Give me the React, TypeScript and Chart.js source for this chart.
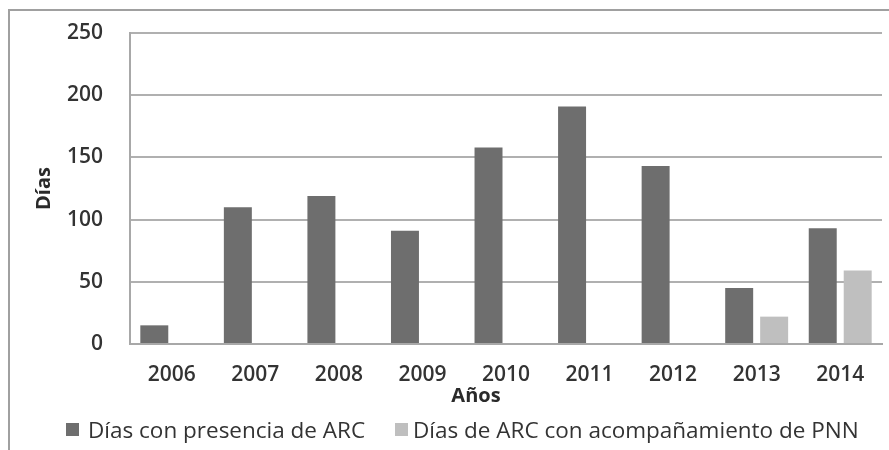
import React, { useEffect, useRef } from "react";
import { Chart, registerables } from "chart.js";

Chart.register(...registerables);

const years = ["2006", "2007", "2008", "2009", "2010", "2011", "2012", "2013", "2014"];
const diasPresenciaArc = [15, 110, 119, 91, 158, 191, 143, 45, 93];
const diasAcompanamientoPnn = [null, null, null, null, null, null, null, 22, 59];
const seriesNames = ["Días con presencia de ARC", "Días de ARC con acompañamiento de PNN"];
const seriesColors = ["#6e6e6e", "#bfbfbf"];
const yMin = 0;
const yMax = 250;
const yStep = 50;
const xAxisTitle = "Años";
const yAxisTitle = "Días";

const FONT = "'Open Sans', 'DejaVu Sans', sans-serif";

export default function App() {
  const canvasRef = useRef<HTMLCanvasElement | null>(null);

  useEffect(() => {
    const canvas = canvasRef.current;
    if (!canvas) return;
    const chart = new Chart(canvas, {
      type: "bar",
      data: {
        labels: years,
        datasets: [
          {
            label: seriesNames[0],
            data: diasPresenciaArc,
            backgroundColor: seriesColors[0],
            borderWidth: 0,
            categoryPercentage: 0.837,
            barPercentage: 0.8,
          },
          {
            label: seriesNames[1],
            data: diasAcompanamientoPnn as any,
            backgroundColor: seriesColors[1],
            borderWidth: 0,
            categoryPercentage: 0.837,
            barPercentage: 0.8,
          },
        ],
      },
      options: {
        responsive: false,
        animation: false,
        devicePixelRatio: 1,
        layout: { padding: { top: 33, right: 7, bottom: 64, left: 0 } },
        plugins: {
          legend: { display: false },
          tooltip: { enabled: false },
        },
        scales: {
          x: {
            grid: { display: false, drawTicks: false },
            border: { display: true, color: "#a8a8a8", width: 2 },
            ticks: {
              color: "#333333",
              font: { family: FONT, size: 21, weight: "600" as any },
              padding: 18,
            },
            afterFit: (s: any) => {
              s.height = 42;
            },
          },
          y: {
            min: yMin,
            max: yMax,
            grid: { color: "#b0b0b0", lineWidth: 2, drawTicks: false },
            border: { display: true, color: "#a8a8a8", width: 2 },
            ticks: {
              stepSize: yStep,
              color: "#333333",
              font: { family: FONT, size: 21, weight: "600" as any },
              padding: 27,
            },
            title: {
              display: true,
              text: yAxisTitle,
              color: "#2a2a2a",
              font: { family: FONT, size: 20, weight: "bold" },
              padding: { top: 32, bottom: 0 },
            },
            afterFit: (s: any) => {
              s.width = 130;
              s.paddingTop = 12;
              s.paddingBottom = 12;
            },
          },
        },
      },
    });
    return () => chart.destroy();
  }, []);

  return (
    <div
      style={{
        position: "fixed",
        left: 0,
        top: 0,
        width: 889,
        height: 450,
        overflow: "hidden",
        background: "#ffffff",
      }}
    >
      <div
        style={{
          position: "absolute",
          left: 8,
          top: 9,
          width: 2000,
          height: 2000,
          borderLeft: "2px solid #a0a0a0",
          borderTop: "2px solid #a0a0a0",
        }}
      />
      <canvas
        ref={canvasRef}
        width={889}
        height={450}
        style={{ position: "absolute", left: 0, top: 0, width: 889, height: 450 }}
      />
      <div
        style={{
          position: "absolute",
          left: 406,
          width: 140,
          top: 383,
          textAlign: "center",
          fontFamily: FONT,
          fontWeight: "bold",
          fontSize: 20,
          lineHeight: "24px",
          color: "#2a2a2a",
        }}
      >
        {xAxisTitle}
      </div>
      {seriesNames.map((name, i) => (
        <div
          key={name}
          style={{
            position: "absolute",
            left: i === 0 ? 66 : 395,
            top: 415,
            height: 28,
            display: "flex",
            alignItems: "center",
            whiteSpace: "nowrap",
            fontFamily: FONT,
            fontSize: 22.5,
            color: "#333333",
          }}
        >
          <span
            style={{
              display: "inline-block",
              width: 13,
              height: 13,
              background: seriesColors[i],
              marginRight: i === 0 ? 9 : 5,
            }}
          />
          <span>{name}</span>
        </div>
      ))}
    </div>
  );
}
